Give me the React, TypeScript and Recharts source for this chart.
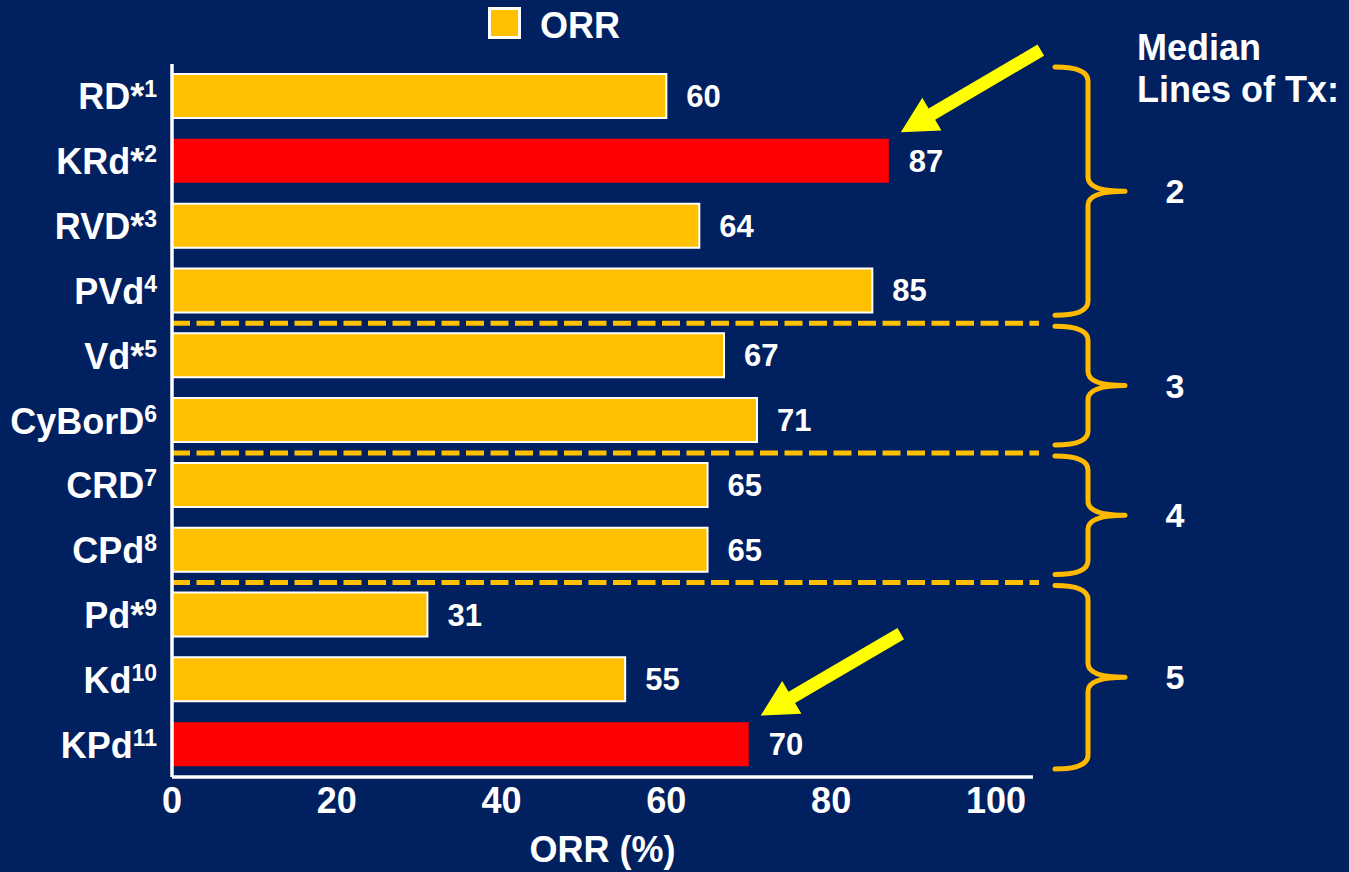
import React from 'react';
import {
  BarChart,
  Bar,
  XAxis,
  YAxis,
  Cell,
  LabelList,
  ReferenceLine,
  ReferenceArea,
  ReferenceDot,
  Legend,
} from 'recharts';

// Palette
const NAVY = '#002060';
const GOLD = '#FFC000';
const BRACE = '#FFBA00';
const RED = '#FF0000';
const YELLOW = '#FFFF00';
const WHITE = '#FFFFFF';
const FONT = '"Liberation Sans", Arial, Helvetica, sans-serif';

// Regimens, top to bottom
const regimens = ['RD', 'KRd', 'RVD', 'PVd', 'Vd', 'CyBorD', 'CRD', 'CPd', 'Pd', 'Kd', 'KPd'];
// Regimens flagged with an asterisk
const starred = ['RD', 'KRd', 'RVD', 'Vd', 'Pd'];
// Citation numbers shown as superscripts
const citations = ['1', '2', '3', '4', '5', '6', '7', '8', '9', '10', '11'];
// Overall response rate, %
const orrValues = [60, 87, 64, 85, 67, 71, 65, 65, 31, 55, 70];
// Regimens drawn in red and pointed at by arrows
const highlighted = ['KRd', 'KPd'];

// X axis
const xTicks = [0, 20, 40, 60, 80, 100];
const xDomainMax = 104.5;

// Median prior lines of therapy per block of regimens
const lineGroups = [
  { from: 'RD', to: 'PVd', median: '2' },
  { from: 'Vd', to: 'CyBorD', median: '3' },
  { from: 'CRD', to: 'CPd', median: '4' },
  { from: 'Pd', to: 'KPd', median: '5' },
];

const data = regimens.map((name, i) => ({ name, orr: orrValues[i] }));

const citationOf = (name: string) => citations[regimens.indexOf(name)] || '';
const isStarred = (name: string) => starred.includes(name);
const isHighlighted = (name: string) => highlighted.includes(name);

function renderRegimenTick(props: any) {
  const { x, y, payload } = props;
  const name = String(payload.value);
  return (
    <text x={x} y={y} dy={13} textAnchor="end" fill={WHITE} fontSize={36} fontWeight={700}>
      <tspan>
        {name}
        {isStarred(name) ? '*' : ''}
      </tspan>
      <tspan fontSize={23} dy={-12}>
        {citationOf(name)}
      </tspan>
    </text>
  );
}

function renderValueLabel(props: any) {
  const vb = props.viewBox && props.viewBox.width !== undefined ? props.viewBox : props;
  const x = Number(vb.x);
  const y = Number(vb.y);
  const width = Number(vb.width);
  const height = Number(vb.height);
  return (
    <text
      x={x + width + 20}
      y={y + height / 2}
      dy={11}
      fill={WHITE}
      fontSize={31}
      fontWeight={700}
      textAnchor="start"
    >
      {props.value}
    </text>
  );
}

// Block arrow whose tip sits just above the right end of a bar
function renderArrow(cx: number, cy: number) {
  const tx = cx + 12;
  const ty = cy - 29;
  const vx = 140;
  const vy = -82;
  const len = Math.sqrt(vx * vx + vy * vy);
  const ux = vx / len;
  const uy = vy / len;
  const nx = -uy;
  const ny = ux;
  const head = 36;
  const headHalf = 19;
  const shaftHalf = 6.5;
  const pt = (a: number, b: number) => `${tx + ux * a + nx * b},${ty + uy * a + ny * b}`;
  const points = [
    pt(0, 0),
    pt(head, headHalf),
    pt(head, shaftHalf),
    pt(len, shaftHalf),
    pt(len, -shaftHalf),
    pt(head, -shaftHalf),
    pt(head, -headHalf),
  ].join(' ');
  return <polygon points={points} fill={YELLOW} />;
}

// Right-facing curly brace beside a block of rows, with its median label
function renderBrace(x: number, y: number, width: number, height: number, median: string) {
  const right = x + width;
  const x0 = right + 22;
  const xv = right + 55;
  const xt = right + 92;
  const top = y + 3;
  const bottom = y + height - 8;
  const mid = (top + bottom) / 2;
  const r = 14;
  const d = [
    `M${x0},${top}`,
    `Q${xv},${top} ${xv},${top + r}`,
    `L${xv},${mid - r}`,
    `Q${xv},${mid} ${xt},${mid}`,
    `Q${xv},${mid} ${xv},${mid + r}`,
    `L${xv},${bottom - r}`,
    `Q${xv},${bottom} ${x0},${bottom}`,
  ].join(' ');
  return (
    <g>
      <path d={d} fill="none" stroke={BRACE} strokeWidth={5} strokeLinecap="round" strokeLinejoin="round" />
      <text x={right + 142} y={mid} dy={12} textAnchor="middle" fill={WHITE} fontSize={34} fontWeight={700}>
        {median}
      </text>
    </g>
  );
}

function renderDivider(x1: number, y1: number, x2: number, y2: number) {
  return (
    <line
      x1={x1}
      y1={y1}
      x2={x2 + 6}
      y2={y2}
      stroke={GOLD}
      strokeWidth={5}
      strokeDasharray="18 6.5"
    />
  );
}

function renderLegend(props: any) {
  const items = props.payload || [];
  return (
    <div style={{ display: 'flex' }}>
      {items.map((item: any) => (
        <div key={String(item.value)} style={{ display: 'flex', alignItems: 'flex-start' }}>
          <span
            style={{
              display: 'inline-block',
              width: 33,
              height: 32,
              boxSizing: 'border-box',
              background: item.color,
              border: `3px solid ${WHITE}`,
              marginRight: 19,
            }}
          />
          <span
            style={{
              color: WHITE,
              fontSize: 36,
              fontWeight: 700,
              lineHeight: '32px',
              marginTop: 3,
            }}
          >
            {item.value}
          </span>
        </div>
      ))}
    </div>
  );
}

export default function App() {
  return (
    <div
      style={{
        position: 'absolute',
        left: 0,
        top: 0,
        width: 1349,
        height: 872,
        background: NAVY,
        fontFamily: FONT,
        overflow: 'hidden',
      }}
    >
      <BarChart
        width={1349}
        height={872}
        data={data}
        layout="vertical"
        margin={{ top: 64, right: 316, bottom: 0, left: 0 }}
        barSize={44}
      >
        <XAxis
          type="number"
          domain={[0, xDomainMax]}
          ticks={xTicks}
          height={95}
          axisLine={{ stroke: WHITE, strokeWidth: 3.5 }}
          tickLine={false}
          tickSize={0}
          tickMargin={10}
          tick={{ fill: WHITE, fontSize: 36, fontWeight: 700 }}
          label={{
            value: 'ORR (%)',
            position: 'insideBottom',
            offset: 10,
            fill: WHITE,
            fontSize: 36,
            fontWeight: 700,
          }}
        />
        <YAxis
          type="category"
          dataKey="name"
          width={172}
          axisLine={{ stroke: WHITE, strokeWidth: 3.5 }}
          tickLine={false}
          tickSize={0}
          tickMargin={15}
          tick={renderRegimenTick}
          interval={0}
        />
        <Legend
          layout="horizontal"
          verticalAlign="middle"
          align="center"
          wrapperStyle={{ top: 7, left: 488, width: 'auto', height: 'auto' }}
          content={renderLegend}
        />
        {lineGroups.slice(1).map((g) => (
          <ReferenceLine
            key={`div-${g.from}`}
            y={g.from}
            position="start"
            ifOverflow="visible"
            shape={(p: any) => renderDivider(p.x1, p.y1, p.x2, p.y2)}
          />
        ))}
        {lineGroups.map((g) => (
          <ReferenceArea
            key={`brace-${g.median}`}
            y1={g.from}
            y2={g.to}
            ifOverflow="visible"
            shape={(p: any) => renderBrace(p.x, p.y, p.width, p.height, g.median)}
          />
        ))}
        <Bar dataKey="orr" name="ORR" fill={GOLD} stroke={WHITE} strokeWidth={2} isAnimationActive={false}>
          {data.map((d) => (
            <Cell
              key={d.name}
              fill={isHighlighted(d.name) ? RED : GOLD}
              stroke={isHighlighted(d.name) ? 'none' : WHITE}
              strokeWidth={isHighlighted(d.name) ? 0 : 2}
            />
          ))}
          <LabelList dataKey="orr" content={renderValueLabel} />
        </Bar>
        {data
          .filter((d) => isHighlighted(d.name))
          .map((d) => (
            <ReferenceDot
              key={`arrow-${d.name}`}
              x={d.orr}
              y={d.name}
              r={0}
              ifOverflow="visible"
              shape={(p: any) => renderArrow(p.cx, p.cy)}
            />
          ))}
      </BarChart>
      <div
        style={{
          position: 'absolute',
          left: 1137,
          top: 27,
          color: WHITE,
          fontSize: 36,
          fontWeight: 700,
          lineHeight: '42px',
          whiteSpace: 'nowrap',
        }}
      >
        Median
        <br />
        Lines of Tx:
      </div>
    </div>
  );
}
